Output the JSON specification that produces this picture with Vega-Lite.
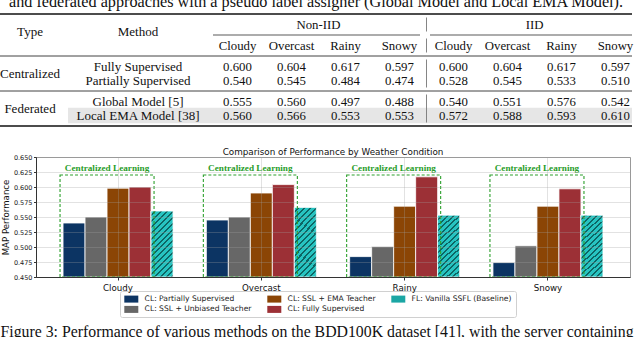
{
  "$schema": "https://vega.github.io/schema/vega-lite/v6.json",
  "width": 594,
  "height": 120,
  "autosize": "none",
  "padding": {"left": 36, "top": 157, "right": 10, "bottom": 60},
  "background": "white",
  "config": {"view": {"stroke": "#999999", "strokeWidth": 1}, "font": "DejaVu Sans"},
  "datasets": {
    "bars": [
      {"weather": "Cloudy", "method": "CL: Partially Supervised", "map": 0.540},
      {"weather": "Cloudy", "method": "CL: SSL + Unbiased Teacher", "map": 0.550},
      {"weather": "Cloudy", "method": "CL: SSL + EMA Teacher", "map": 0.598},
      {"weather": "Cloudy", "method": "CL: Fully Supervised", "map": 0.600},
      {"weather": "Cloudy", "method": "FL: Vanilla SSFL (Baseline)", "map": 0.560},
      {"weather": "Overcast", "method": "CL: Partially Supervised", "map": 0.545},
      {"weather": "Overcast", "method": "CL: SSL + Unbiased Teacher", "map": 0.550},
      {"weather": "Overcast", "method": "CL: SSL + EMA Teacher", "map": 0.590},
      {"weather": "Overcast", "method": "CL: Fully Supervised", "map": 0.604},
      {"weather": "Overcast", "method": "FL: Vanilla SSFL (Baseline)", "map": 0.566},
      {"weather": "Rainy", "method": "CL: Partially Supervised", "map": 0.484},
      {"weather": "Rainy", "method": "CL: SSL + Unbiased Teacher", "map": 0.501},
      {"weather": "Rainy", "method": "CL: SSL + EMA Teacher", "map": 0.568},
      {"weather": "Rainy", "method": "CL: Fully Supervised", "map": 0.617},
      {"weather": "Rainy", "method": "FL: Vanilla SSFL (Baseline)", "map": 0.553},
      {"weather": "Snowy", "method": "CL: Partially Supervised", "map": 0.474},
      {"weather": "Snowy", "method": "CL: SSL + Unbiased Teacher", "map": 0.502},
      {"weather": "Snowy", "method": "CL: SSL + EMA Teacher", "map": 0.568},
      {"weather": "Snowy", "method": "CL: Fully Supervised", "map": 0.597},
      {"weather": "Snowy", "method": "FL: Vanilla SSFL (Baseline)", "map": 0.553}
    ],
    "boxes": [
      {"weather": "Cloudy", "label": "Centralized Learning"},
      {"weather": "Overcast", "label": "Centralized Learning"},
      {"weather": "Rainy", "label": "Centralized Learning"},
      {"weather": "Snowy", "label": "Centralized Learning"}
    ],
    "chartTitle": [{"text": "Comparison of Performance by Weather Condition"}],
    "captionBottom": [{"text": "Figure 3: Performance of various methods on the BDD100K dataset [41], with the server containing"}],
    "captionTop": [{"row": "caption", "text": "and federated approaches with a pseudo label assigner (Global Model and Local EMA Model)."}],
    "tableHighlight": [{"row": "Local EMA Model [38]", "from": "highlightLeft", "to": "tableRight"}],
    "tableRulesHeavy": [{"row": "topRule", "from": "tableLeft", "to": "tableRight"}, {"row": "bottomRule", "from": "tableLeft", "to": "tableRight"}],
    "tableRulesLight": [{"row": "midRule", "from": "tableLeft", "to": "tableRight"}, {"row": "groupRule", "from": "tableLeft", "to": "tableRight"}],
    "tableCmidNonIid": [{"row": "cmid", "from": "nonIidLeft", "to": "nonIidRight"}],
    "tableCmidIid": [{"row": "cmid", "from": "iidLeft", "to": "iidRight"}],
    "tableLeft": [
      {"col": "Type", "row": "headerMid", "text": "Type"},
      {"col": "Method", "row": "headerMid", "text": "Method"},
      {"col": "Type", "row": "Centralized", "text": "Centralized"},
      {"col": "Type", "row": "Federated", "text": "Federated"},
      {"col": "Method", "row": "Fully Supervised", "text": "Fully Supervised"},
      {"col": "Method", "row": "Partially Supervised", "text": "Partially Supervised"},
      {"col": "Method", "row": "Global Model [5]", "text": "Global Model [5]"},
      {"col": "Method", "row": "Local EMA Model [38]", "text": "Local EMA Model [38]"}
    ],
    "tableSettingHeader": [
      {"row": "header1", "setting": "Non-IID"},
      {"row": "header1", "setting": "IID"}
    ],
    "tableWeatherHeader": [
      {"row": "header2", "setting": "Non-IID", "weather": "Cloudy"},
      {"row": "header2", "setting": "Non-IID", "weather": "Overcast"},
      {"row": "header2", "setting": "Non-IID", "weather": "Rainy"},
      {"row": "header2", "setting": "Non-IID", "weather": "Snowy"},
      {"row": "header2", "setting": "IID", "weather": "Cloudy"},
      {"row": "header2", "setting": "IID", "weather": "Overcast"},
      {"row": "header2", "setting": "IID", "weather": "Rainy"},
      {"row": "header2", "setting": "IID", "weather": "Snowy"}
    ],
    "tableSeparator": [
      {"setting": "IID", "row": "sep1a", "row2": "headerMid"},
      {"setting": "IID", "row": "sep2a", "row2": "sep2b"},
      {"setting": "IID", "row": "sep3a", "row2": "sep3b"},
      {"setting": "IID", "row": "sep4a", "row2": "sep4b"}
    ],
    "tableValues": [
      {"row": "Fully Supervised", "setting": "Non-IID", "weather": "Cloudy", "value": 0.600},
      {"row": "Fully Supervised", "setting": "Non-IID", "weather": "Overcast", "value": 0.604},
      {"row": "Fully Supervised", "setting": "Non-IID", "weather": "Rainy", "value": 0.617},
      {"row": "Fully Supervised", "setting": "Non-IID", "weather": "Snowy", "value": 0.597},
      {"row": "Fully Supervised", "setting": "IID", "weather": "Cloudy", "value": 0.600},
      {"row": "Fully Supervised", "setting": "IID", "weather": "Overcast", "value": 0.604},
      {"row": "Fully Supervised", "setting": "IID", "weather": "Rainy", "value": 0.617},
      {"row": "Fully Supervised", "setting": "IID", "weather": "Snowy", "value": 0.597},
      {"row": "Partially Supervised", "setting": "Non-IID", "weather": "Cloudy", "value": 0.540},
      {"row": "Partially Supervised", "setting": "Non-IID", "weather": "Overcast", "value": 0.545},
      {"row": "Partially Supervised", "setting": "Non-IID", "weather": "Rainy", "value": 0.484},
      {"row": "Partially Supervised", "setting": "Non-IID", "weather": "Snowy", "value": 0.474},
      {"row": "Partially Supervised", "setting": "IID", "weather": "Cloudy", "value": 0.528},
      {"row": "Partially Supervised", "setting": "IID", "weather": "Overcast", "value": 0.545},
      {"row": "Partially Supervised", "setting": "IID", "weather": "Rainy", "value": 0.533},
      {"row": "Partially Supervised", "setting": "IID", "weather": "Snowy", "value": 0.510},
      {"row": "Global Model [5]", "setting": "Non-IID", "weather": "Cloudy", "value": 0.555},
      {"row": "Global Model [5]", "setting": "Non-IID", "weather": "Overcast", "value": 0.560},
      {"row": "Global Model [5]", "setting": "Non-IID", "weather": "Rainy", "value": 0.497},
      {"row": "Global Model [5]", "setting": "Non-IID", "weather": "Snowy", "value": 0.488},
      {"row": "Global Model [5]", "setting": "IID", "weather": "Cloudy", "value": 0.540},
      {"row": "Global Model [5]", "setting": "IID", "weather": "Overcast", "value": 0.551},
      {"row": "Global Model [5]", "setting": "IID", "weather": "Rainy", "value": 0.576},
      {"row": "Global Model [5]", "setting": "IID", "weather": "Snowy", "value": 0.542},
      {"row": "Local EMA Model [38]", "setting": "Non-IID", "weather": "Cloudy", "value": 0.560},
      {"row": "Local EMA Model [38]", "setting": "Non-IID", "weather": "Overcast", "value": 0.566},
      {"row": "Local EMA Model [38]", "setting": "Non-IID", "weather": "Rainy", "value": 0.553},
      {"row": "Local EMA Model [38]", "setting": "Non-IID", "weather": "Snowy", "value": 0.553},
      {"row": "Local EMA Model [38]", "setting": "IID", "weather": "Cloudy", "value": 0.572},
      {"row": "Local EMA Model [38]", "setting": "IID", "weather": "Overcast", "value": 0.588},
      {"row": "Local EMA Model [38]", "setting": "IID", "weather": "Rainy", "value": 0.593},
      {"row": "Local EMA Model [38]", "setting": "IID", "weather": "Snowy", "value": 0.610}
    ]
  },
  "layer": [
    {
      "layer": [
        {
          "data": {"name": "bars"},
          "mark": {"type": "bar", "stroke": "white", "strokeWidth": 0.8},
          "encoding": {
            "x": {
              "field": "weather", "type": "nominal",
              "scale": {"domain": ["Cloudy", "Overcast", "Rainy", "Snowy"], "paddingInner": 0, "paddingOuter": 0.0725},
              "axis": {"title": null, "labelAngle": 0, "labelFontSize": 8.7, "labelColor": "#111111", "labelPadding": 3, "tickSize": 3, "tickColor": "#333333", "domainColor": "#333333", "grid": true, "gridColor": "#a0a0a0", "gridOpacity": 0.3, "zindex": 1, "bandPosition": 0.5}
            },
            "xOffset": {
              "field": "method", "type": "nominal",
              "scale": {"domain": ["CL: Partially Supervised", "CL: SSL + Unbiased Teacher", "CL: SSL + EMA Teacher", "CL: Fully Supervised", "FL: Vanilla SSFL (Baseline)"], "paddingInner": 0, "paddingOuter": 0.757}
            },
            "y": {
              "field": "map", "type": "quantitative",
              "scale": {"domain": [0.45, 0.65], "zero": false, "nice": false},
              "axis": {"values": [0.45, 0.475, 0.5, 0.525, 0.55, 0.575, 0.6, 0.625, 0.65], "tickCount": 9, "format": ".3f", "labelOverlap": false, "labelFontSize": 6.5, "labelColor": "#222222", "labelPadding": 1.5, "tickSize": 2.5, "tickColor": "#333333", "domainColor": "#333333", "title": "MAP Performance", "titleFontSize": 8.6, "titleFontWeight": "normal", "titleColor": "#111111", "titlePadding": 3, "gridColor": "#a0a0a0", "gridOpacity": 0.3, "zindex": 1}
            },
            "y2": {"datum": 0.45},
            "color": {
              "field": "method", "type": "nominal",
              "scale": {
                "domain": ["CL: Partially Supervised", "CL: SSL + EMA Teacher", "FL: Vanilla SSFL (Baseline)", "CL: SSL + Unbiased Teacher", "CL: Fully Supervised"],
                "range": ["#0c3463", "#8b4505", "#1ba6a4", "#676767", "#9c3036"]
              },
              "legend": {"title": null, "orient": "none", "legendX": 84, "legendY": 134, "direction": "horizontal", "columns": 3, "symbolType": "M-1,-1H3V1H-1Z", "symbolSize": 49, "symbolStrokeWidth": 0, "labelOffset": 13, "labelFontSize": 7.6, "labelColor": "#222222", "columnPadding": 15, "rowPadding": 1.6, "padding": 4, "strokeColor": "#d0d0d0", "fillColor": "white", "cornerRadius": 2, "labelLimit": 300}
            }
          }
        },
        {
          "data": {"name": "bars"},
          "transform": [{"filter": "datum.method === 'FL: Vanilla SSFL (Baseline)'"}],
          "mark": {
            "type": "bar", "stroke": "white", "strokeWidth": 0.8,
            "fill": {
              "gradient": "linear", "x1": 0, "y1": 0, "x2": 0.4, "y2": 1.2,
              "stops": [
                {"offset": 0, "color": "#27c4c1"}, {"offset": 0.0433, "color": "#27c4c1"}, {"offset": 0.0433, "color": "#0d6664"}, {"offset": 0.0667, "color": "#0d6664"},
                {"offset": 0.0667, "color": "#27c4c1"}, {"offset": 0.11, "color": "#27c4c1"}, {"offset": 0.11, "color": "#0d6664"}, {"offset": 0.1333, "color": "#0d6664"},
                {"offset": 0.1333, "color": "#27c4c1"}, {"offset": 0.1767, "color": "#27c4c1"}, {"offset": 0.1767, "color": "#0d6664"}, {"offset": 0.2, "color": "#0d6664"},
                {"offset": 0.2, "color": "#27c4c1"}, {"offset": 0.2433, "color": "#27c4c1"}, {"offset": 0.2433, "color": "#0d6664"}, {"offset": 0.2667, "color": "#0d6664"},
                {"offset": 0.2667, "color": "#27c4c1"}, {"offset": 0.31, "color": "#27c4c1"}, {"offset": 0.31, "color": "#0d6664"}, {"offset": 0.3333, "color": "#0d6664"},
                {"offset": 0.3333, "color": "#27c4c1"}, {"offset": 0.3767, "color": "#27c4c1"}, {"offset": 0.3767, "color": "#0d6664"}, {"offset": 0.4, "color": "#0d6664"},
                {"offset": 0.4, "color": "#27c4c1"}, {"offset": 0.4433, "color": "#27c4c1"}, {"offset": 0.4433, "color": "#0d6664"}, {"offset": 0.4667, "color": "#0d6664"},
                {"offset": 0.4667, "color": "#27c4c1"}, {"offset": 0.51, "color": "#27c4c1"}, {"offset": 0.51, "color": "#0d6664"}, {"offset": 0.5333, "color": "#0d6664"},
                {"offset": 0.5333, "color": "#27c4c1"}, {"offset": 0.5767, "color": "#27c4c1"}, {"offset": 0.5767, "color": "#0d6664"}, {"offset": 0.6, "color": "#0d6664"},
                {"offset": 0.6, "color": "#27c4c1"}, {"offset": 0.6433, "color": "#27c4c1"}, {"offset": 0.6433, "color": "#0d6664"}, {"offset": 0.6667, "color": "#0d6664"},
                {"offset": 0.6667, "color": "#27c4c1"}, {"offset": 0.71, "color": "#27c4c1"}, {"offset": 0.71, "color": "#0d6664"}, {"offset": 0.7333, "color": "#0d6664"},
                {"offset": 0.7333, "color": "#27c4c1"}, {"offset": 0.7767, "color": "#27c4c1"}, {"offset": 0.7767, "color": "#0d6664"}, {"offset": 0.8, "color": "#0d6664"},
                {"offset": 0.8, "color": "#27c4c1"}, {"offset": 0.8433, "color": "#27c4c1"}, {"offset": 0.8433, "color": "#0d6664"}, {"offset": 0.8667, "color": "#0d6664"},
                {"offset": 0.8667, "color": "#27c4c1"}, {"offset": 0.91, "color": "#27c4c1"}, {"offset": 0.91, "color": "#0d6664"}, {"offset": 0.9333, "color": "#0d6664"},
                {"offset": 0.9333, "color": "#27c4c1"}, {"offset": 0.9767, "color": "#27c4c1"}, {"offset": 0.9767, "color": "#0d6664"}, {"offset": 1, "color": "#0d6664"}
              ]
            }
          },
          "encoding": {
            "x": {"field": "weather", "type": "nominal"},
            "xOffset": {"field": "method", "type": "nominal"},
            "y": {"field": "map", "type": "quantitative", "axis": {"values": [0.45, 0.475, 0.5, 0.525, 0.55, 0.575, 0.6, 0.625, 0.65], "tickCount": 9, "format": ".3f", "labelOverlap": false}},
            "y2": {"datum": 0.45}
          }
        },
        {
          "data": {"name": "boxes"},
          "mark": {"type": "bar", "fill": "white", "fillOpacity": 0, "stroke": "#2ca02c", "strokeWidth": 1.1, "strokeDash": [3, 2], "width": {"band": 0.656}, "xOffset": -11},
          "encoding": {
            "x": {"field": "weather", "type": "nominal"},
            "y": {"datum": 0.62, "axis": {"values": [0.45, 0.475, 0.5, 0.525, 0.55, 0.575, 0.6, 0.625, 0.65], "tickCount": 9, "format": ".3f", "labelOverlap": false}},
            "y2": {"datum": 0.45}
          }
        },
        {
          "data": {"name": "boxes"},
          "mark": {"type": "text", "font": "Liberation Serif", "fontWeight": "bold", "fontSize": 9.2, "color": "#2a9d2a", "dx": -11, "baseline": "middle"},
          "encoding": {
            "x": {"field": "weather", "type": "nominal"},
            "y": {"datum": 0.6322, "axis": {"values": [0.45, 0.475, 0.5, 0.525, 0.55, 0.575, 0.6, 0.625, 0.65], "tickCount": 9, "format": ".3f", "labelOverlap": false}},
            "text": {"field": "label"}
          }
        },
        {
          "data": {"name": "chartTitle"},
          "mark": {"type": "text", "x": {"expr": "width / 2"}, "fontSize": 8.8, "baseline": "middle", "color": "#111111"},
          "encoding": {"y": {"datum": 0.6583, "axis": {"values": [0.45, 0.475, 0.5, 0.525, 0.55, 0.575, 0.6, 0.625, 0.65], "tickCount": 9, "format": ".3f", "labelOverlap": false}}, "text": {"field": "text"}}
        },
        {
          "data": {"name": "captionBottom"},
          "mark": {"type": "text", "x": {"expr": "width / 2"}, "dx": -16, "font": "Liberation Serif", "fontSize": 15.8, "baseline": "alphabetic", "color": "#111111"},
          "encoding": {"y": {"datum": 0.35, "axis": {"values": [0.45, 0.475, 0.5, 0.525, 0.55, 0.575, 0.6, 0.625, 0.65], "tickCount": 9, "format": ".3f", "labelOverlap": false}}, "text": {"field": "text"}}
        }
      ]
    },
    {
      "encoding": {
        "y": {
          "field": "row", "type": "ordinal",
          "scale": {
            "type": "point", "padding": 0, "range": [-150, -31],
            "domain": ["caption", "_1", "topRule", "sep1a", "_4", "header1", "_6", "headerMid", "cmid", "sep2a", "_10", "header2", "_12", "sep2b", "midRule", "sep3a", "_16", "Fully Supervised", "_18", "Centralized", "_20", "Partially Supervised", "_22", "sep3b", "groupRule", "sep4a", "_26", "Global Model [5]", "_28", "Federated", "_30", "Local EMA Model [38]", "_32", "sep4b", "bottomRule"]
          },
          "axis": null
        }
      },
      "layer": [
        {
          "data": {"name": "tableHighlight"},
          "mark": {"type": "rule", "color": "#e6e6e6", "strokeWidth": 15.5},
          "encoding": {
            "x": {"field": "from", "type": "nominal", "scale": {"type": "point", "domain": ["highlightLeft", "tableRight"], "range": [32, 596], "padding": 0}, "axis": null},
            "x2": {"field": "to"}
          }
        },
        {
          "data": {"name": "tableRulesHeavy"},
          "mark": {"type": "rule", "color": "#111111", "strokeWidth": 1.4},
          "encoding": {
            "x": {"field": "from", "type": "nominal", "scale": {"type": "point", "domain": ["tableLeft", "tableRight"], "range": [-36, 596], "padding": 0}, "axis": null},
            "x2": {"field": "to"}
          }
        },
        {
          "data": {"name": "tableRulesLight"},
          "mark": {"type": "rule", "color": "#111111", "strokeWidth": 0.8},
          "encoding": {
            "x": {"field": "from", "type": "nominal", "scale": {"type": "point", "domain": ["tableLeft", "tableRight"], "range": [-36, 596], "padding": 0}, "axis": null},
            "x2": {"field": "to"}
          }
        },
        {
          "data": {"name": "tableCmidNonIid"},
          "mark": {"type": "rule", "color": "#111111", "strokeWidth": 0.7},
          "encoding": {
            "x": {"field": "from", "type": "nominal", "scale": {"type": "point", "domain": ["nonIidLeft", "nonIidRight"], "range": [177, 384], "padding": 0}, "axis": null},
            "x2": {"field": "to"}
          }
        },
        {
          "data": {"name": "tableCmidIid"},
          "mark": {"type": "rule", "color": "#111111", "strokeWidth": 0.7},
          "encoding": {
            "x": {"field": "from", "type": "nominal", "scale": {"type": "point", "domain": ["iidLeft", "iidRight"], "range": [394, 596], "padding": 0}, "axis": null},
            "x2": {"field": "to"}
          }
        },
        {
          "data": {"name": "captionTop"},
          "mark": {"type": "text", "x": {"expr": "width / 2"}, "dx": -17, "font": "Liberation Serif", "fontSize": 16.2, "baseline": "alphabetic", "color": "#111111"},
          "encoding": {"text": {"field": "text"}}
        },
        {
          "data": {"name": "tableLeft"},
          "mark": {"type": "text", "font": "Liberation Serif", "fontSize": 13, "color": "#111111", "baseline": "middle"},
          "encoding": {
            "x": {"field": "col", "type": "nominal", "scale": {"type": "point", "domain": ["Type", "Method"], "range": [-6, 102], "padding": 0}, "axis": null},
            "text": {"field": "text"}
          }
        },
        {
          "encoding": {
            "x": {"field": "setting", "type": "nominal", "bandPosition": 0, "scale": {"type": "band", "domain": ["Non-IID", "IID"], "range": [174.5, 606.5], "paddingInner": 0, "paddingOuter": 0}, "axis": null}
          },
          "layer": [
            {
              "data": {"name": "tableValues"},
              "mark": {"type": "text", "font": "Liberation Serif", "fontSize": 12.8, "color": "#111111", "baseline": "middle"},
              "encoding": {
                "xOffset": {"field": "weather", "type": "nominal", "scale": {"type": "point", "domain": ["Cloudy", "Overcast", "Rainy", "Snowy"], "range": [0, 216], "padding": 0.5}},
                "text": {"field": "value", "type": "quantitative", "format": ".3f"}
              }
            },
            {
              "data": {"name": "tableWeatherHeader"},
              "mark": {"type": "text", "font": "Liberation Serif", "fontSize": 12.8, "color": "#111111", "baseline": "middle"},
              "encoding": {
                "xOffset": {"field": "weather", "type": "nominal"},
                "text": {"field": "weather"}
              }
            },
            {
              "data": {"name": "tableSettingHeader"},
              "mark": {"type": "text", "font": "Liberation Serif", "fontSize": 12.8, "color": "#111111", "baseline": "middle"},
              "encoding": {
                "x": {"field": "setting", "type": "nominal", "bandPosition": 0.5},
                "text": {"field": "setting"}
              }
            },
            {
              "data": {"name": "tableSeparator"},
              "mark": {"type": "rule", "color": "#777777", "strokeWidth": 0.9},
              "encoding": {
                "x": {"field": "setting", "type": "nominal", "bandPosition": 0},
                "y2": {"field": "row2"}
              }
            }
          ]
        }
      ],
      "resolve": {"scale": {"x": "independent", "xOffset": "independent"}}
    }
  ],
  "resolve": {"scale": {"x": "independent", "y": "independent", "xOffset": "independent"}}
}
